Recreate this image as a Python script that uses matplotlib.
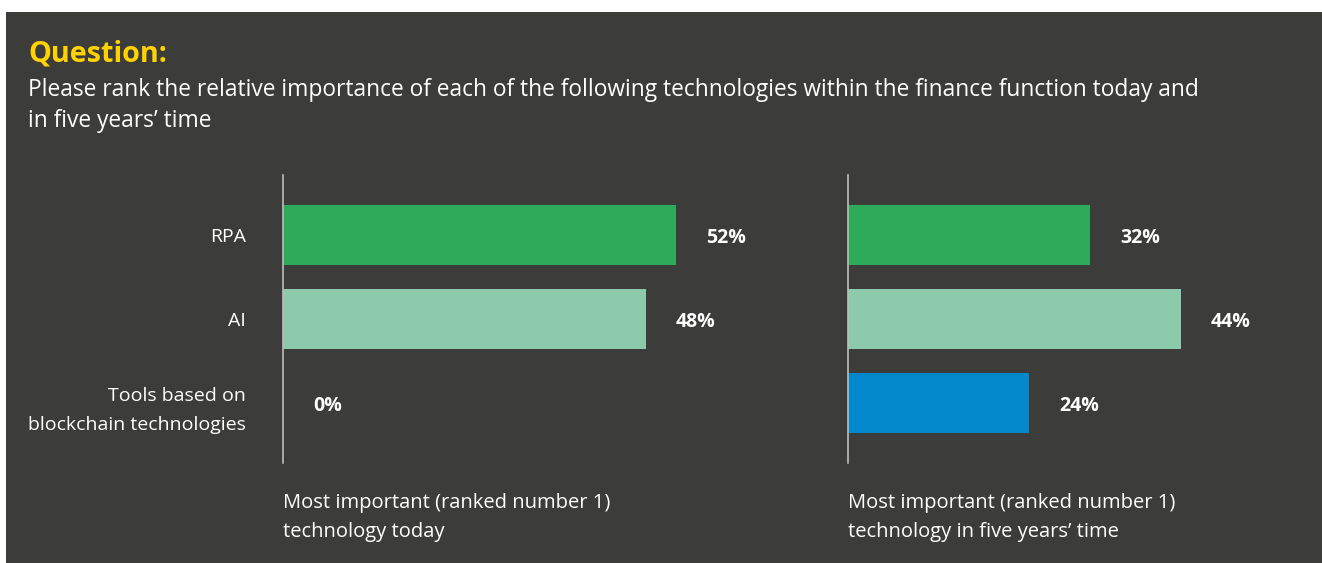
import matplotlib
matplotlib.use("Agg")
import matplotlib.pyplot as plt
from matplotlib.patches import Rectangle

categories = ["RPA", "AI", "Tools based on\nblockchain technologies"]
today = [52, 48, 0]
five_years = [32, 44, 24]
bar_colors = ["#2DAA5A", "#8DCAAC", "#0288CB"]
panel_titles = ["Most important (ranked number 1)\ntechnology today",
                "Most important (ranked number 1)\ntechnology in five years\u2019 time"]
title = "Question:"
subtitle = ("Please rank the relative importance of each of the following technologies within the finance function today and\n"
            "in five years\u2019 time")

W, H = 1322, 563
DPI = 100
BG = "#3C3C3B"
FONT = "Open Sans"

fig = plt.figure(figsize=(W / DPI, H / DPI), dpi=DPI)
fig.patch.set_facecolor("white")

def fx(px):
    return px / W

def fy(py):
    return 1 - py / H

fig.patches.append(Rectangle((fx(6), 0), 1 - fx(6), fy(12), transform=fig.transFigure,
                             facecolor=BG, edgecolor="none", zorder=-10))

fig.text(fx(28), fy(54), title, color="#FFD200", fontsize=20.7, fontweight="bold",
         family=FONT, va="center", ha="left")
fig.text(fx(28), fy(90), subtitle.split("\n")[0], color="white", fontsize=16.4,
         family=FONT, va="center", ha="left")
fig.text(fx(28), fy(121), subtitle.split("\n")[1], color="white", fontsize=16.4,
         family=FONT, va="center", ha="left")

px_per_pct = 7.56
ax_w = 60 * px_per_pct
ax_top, ax_bot = 175, 463
lefts = [283, 848]
series = [today, five_years]
half = 60 / 84

for i, (left, vals) in enumerate(zip(lefts, series)):
    ax = fig.add_axes([fx(left), fy(ax_bot), ax_w / W, (ax_bot - ax_top) / H])
    ax.set_facecolor("none")
    ax.set_zorder(5)
    ys = list(range(len(categories)))
    ax.barh(ys, vals, height=half, color=bar_colors, edgecolor="none", zorder=2)
    ax.set_xlim(0, 60)
    ax.set_ylim(len(categories) - 1 + half, -half)
    for s in ["top", "right", "bottom"]:
        ax.spines[s].set_visible(False)
    ax.spines["left"].set_color("#BDBDBD")
    ax.spines["left"].set_linewidth(1.2)
    ax.set_xticks([])
    ax.tick_params(axis="y", length=0)
    if i == 0:
        ax.set_yticks(ys)
        ax.set_yticklabels(categories, color="white", fontsize=14, family=FONT,
                           linespacing=1.78)
        ax.tick_params(axis="y", pad=37 * 72 / DPI)
    else:
        ax.set_yticks([])
    for y, v in zip(ys, vals):
        ax.annotate(f"{v}%", (v, y), xytext=(30, -3), textcoords="offset pixels",
                    color="white", fontsize=14, fontweight="bold", family=FONT,
                    va="center", ha="left")
    fig.text(fx(left), fy(503), panel_titles[i].split("\n")[0], color="white",
             fontsize=14.5, family=FONT, va="center", ha="left")
    fig.text(fx(left), fy(532), panel_titles[i].split("\n")[1], color="white",
             fontsize=14.5, family=FONT, va="center", ha="left")

fig.savefig("out.png", dpi=DPI, facecolor=fig.get_facecolor())
